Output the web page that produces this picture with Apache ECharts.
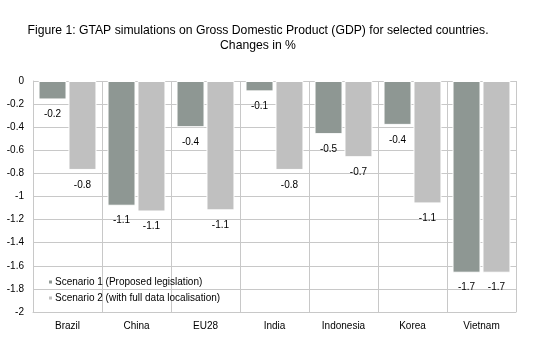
<!DOCTYPE html>
<html><head><meta charset="utf-8">
<script src="https://cdn.jsdelivr.net/npm/echarts@6/dist/echarts.min.js"></script>
<style>html,body{margin:0;padding:0;background:#fff}#c{width:537px;height:359px}</style>
</head><body><div id="c"></div>
<script>
const categories = ['Brazil','China','EU28','India','Indonesia','Korea','Vietnam'];
const scenario1 = [-0.16, -1.08, -0.40, -0.09, -0.46, -0.38, -1.66];
const scenario2 = [-0.77, -1.13, -1.12, -0.77, -0.66, -1.06, -1.66];
const seriesNames = ['Scenario 1 (Proposed legislation)', 'Scenario 2 (with full data localisation)'];
const titleLines = ['Figure 1: GTAP simulations on Gross Domestic Product (GDP) for selected countries.', 'Changes in %'];

const font = 'Liberation Sans, Arial, sans-serif';
const chart = echarts.init(document.getElementById('c'));
const lbl = {
  show: true, position: 'bottom', distance: 10, color: '#000', fontSize: 10, fontFamily: font,
  formatter: p => p.value.toFixed(1)
};
chart.setOption({
  animation: false,
  title: {
    text: titleLines.join('\n'), left: 253, top: 18,
    textAlign: 'center',
    textStyle: { fontSize: 12.2, fontWeight: 'normal', color: '#000', fontFamily: font, lineHeight: 15 }
  },
  legend: {
    orient: 'vertical', left: 42, top: 272, itemWidth: 5, itemHeight: 5, itemGap: 6,
    icon: 'rect',
    textStyle: { fontSize: 10, color: '#000', fontFamily: font, padding: [0, 0, 0, -3] },
    data: seriesNames
  },
  grid: { left: 33, right: 21, top: 81, bottom: 47 },
  xAxis: {
    type: 'category', data: categories, position: 'bottom',
    axisLine: { show: true, onZero: false, lineStyle: { color: '#c8c8c8' } },
    axisTick: { show: false },
    axisLabel: { color: '#000', fontSize: 10, fontFamily: font, margin: 9 },
    splitLine: { show: true, lineStyle: { color: '#c8c8c8' } }
  },
  yAxis: {
    type: 'value', min: -2, max: 0, interval: 0.2,
    axisLine: { show: true, lineStyle: { color: '#c8c8c8' } },
    axisTick: { show: false },
    axisLabel: { color: '#000', fontSize: 10, fontFamily: font, margin: 9,
      formatter: v => String(Math.round(v * 10) / 10) },
    splitLine: { show: true, lineStyle: { color: '#c8c8c8' } }
  },
  series: [
    { name: seriesNames[0], type: 'bar', data: scenario1, barWidth: 28, barGap: '7%',
      itemStyle: { color: '#8e9793', borderColor: '#fff', borderWidth: 1 }, label: lbl },
    { name: seriesNames[1], type: 'bar', data: scenario2, barWidth: 28,
      itemStyle: { color: '#c0c0c0', borderColor: '#fff', borderWidth: 1 }, label: lbl }
  ]
});
</script></body></html>
